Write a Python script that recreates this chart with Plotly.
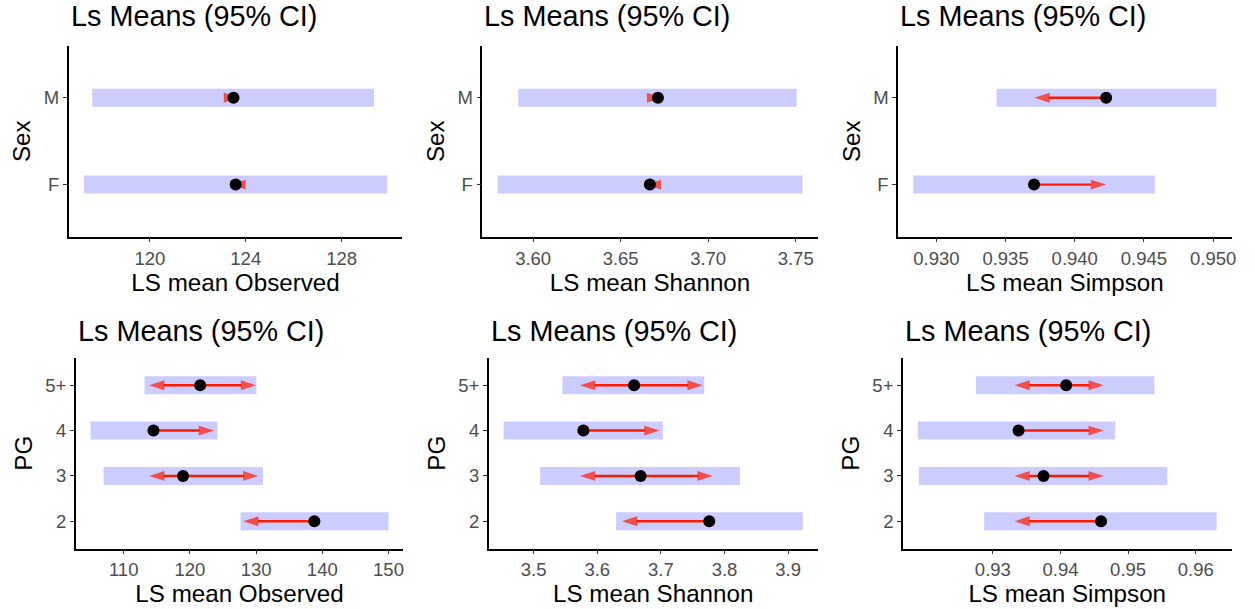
import plotly.graph_objects as go

W, H = 1255, 609

# ---------------- data ----------------
sex_cats = ["F", "M"]
pg_cats = ["2", "3", "4", "5+"]

# Observed ~ Sex
obs_sex_mean = [123.58, 123.49]
obs_sex_lower = [117.25, 117.60]
obs_sex_upper = [129.90, 129.35]
obs_sex_left = [123.36, None]
obs_sex_right = [None, 123.72]

# Shannon ~ Sex
sha_sex_mean = [3.6667, 3.6713]
sha_sex_lower = [3.5797, 3.5915]
sha_sex_upper = [3.7539, 3.7506]
sha_sex_left = [3.6644, None]
sha_sex_right = [None, 3.6737]

# Simpson ~ Sex
sim_sex_mean = [0.93706, 0.94227]
sim_sex_lower = [0.92833, 0.93435]
sim_sex_upper = [0.94579, 0.95024]
sim_sex_left = [None, 0.93709]
sim_sex_right = [0.94227, None]

# Observed ~ PG
obs_pg_mean = [138.8, 118.96, 114.5, 121.55]
obs_pg_lower = [127.65, 106.96, 105.0, 113.15]
obs_pg_upper = [150.0, 131.05, 124.16, 130.05]
obs_pg_left = [128.05, 113.85, None, 113.85]
obs_pg_right = [None, 130.35, 123.65, 130.0]

# Shannon ~ PG
sha_pg_mean = [3.776, 3.6681, 3.5782, 3.6579]
sha_pg_lower = [3.6297, 3.5103, 3.453, 3.5454]
sha_pg_upper = [3.923, 3.8244, 3.7031, 3.7682]
sha_pg_left = [3.639, 3.573, None, 3.573]
sha_pg_right = [None, 3.7814, 3.6978, 3.7657]

# Simpson ~ PG
sim_pg_mean = [0.946, 0.9375, 0.9338, 0.94084]
sim_pg_lower = [0.92872, 0.91906, 0.91891, 0.9275]
sim_pg_upper = [0.96309, 0.95579, 0.94809, 0.9539]
sim_pg_left = [0.9332, 0.9332, None, 0.9332]
sim_pg_right = [None, 0.9464, 0.9464, 0.9464]

# tick labels
obs_sex_ticks = [120, 124, 128]
sha_sex_ticks = [3.60, 3.65, 3.70, 3.75]
sim_sex_ticks = [0.930, 0.935, 0.940, 0.945, 0.950]
obs_pg_ticks = [110, 120, 130, 140, 150]
sha_pg_ticks = [3.5, 3.6, 3.7, 3.8, 3.9]
sim_pg_ticks = [0.93, 0.94, 0.95, 0.96]

title_text = "Ls Means (95% CI)"

# ---------------- styling ----------------
FONT = "Liberation Sans, Arial, Helvetica, sans-serif"
BAR_COLOR = "#CCCCFF"
ARROW_COLOR = "#FF1A00"
TICK_GREY = "#4D4D4D"

panels = [
    dict(cats=sex_cats, mean=obs_sex_mean, lo=obs_sex_lower, hi=obs_sex_upper,
         left=obs_sex_left, right=obs_sex_right, ticks=obs_sex_ticks, fmt="d",
         xtitle="LS mean Observed", ytitle="Sex", xdom=(69, 404), ydom=(45.7, 236.7)),
    dict(cats=sex_cats, mean=sha_sex_mean, lo=sha_sex_lower, hi=sha_sex_upper,
         left=sha_sex_left, right=sha_sex_right, ticks=sha_sex_ticks, fmt=".2f",
         xtitle="LS mean Shannon", ytitle="Sex", xdom=(484.3, 821), ydom=(45.7, 236.7)),
    dict(cats=sex_cats, mean=sim_sex_mean, lo=sim_sex_lower, hi=sim_sex_upper,
         left=sim_sex_left, right=sim_sex_right, ticks=sim_sex_ticks, fmt=".3f",
         xtitle="LS mean Simpson", ytitle="Sex", xdom=(901.7, 1236.5), ydom=(45.7, 236.7)),
    dict(cats=pg_cats, mean=obs_pg_mean, lo=obs_pg_lower, hi=obs_pg_upper,
         left=obs_pg_left, right=obs_pg_right, ticks=obs_pg_ticks, fmt="d",
         xtitle="LS mean Observed", ytitle="PG", xdom=(76, 405), ydom=(358, 548.5)),
    dict(cats=pg_cats, mean=sha_pg_mean, lo=sha_pg_lower, hi=sha_pg_upper,
         left=sha_pg_left, right=sha_pg_right, ticks=sha_pg_ticks, fmt=".1f",
         xtitle="LS mean Shannon", ytitle="PG", xdom=(490.7, 821), ydom=(358, 548.5)),
    dict(cats=pg_cats, mean=sim_pg_mean, lo=sim_pg_lower, hi=sim_pg_upper,
         left=sim_pg_left, right=sim_pg_right, ticks=sim_pg_ticks, fmt=".2f",
         xtitle="LS mean Simpson", ytitle="PG", xdom=(906.5, 1236.5), ydom=(358, 548.5)),
]

fig = go.Figure()
BAR_PX = 18

for k, p in enumerate(panels, start=1):
    xa = "x" if k == 1 else f"x{k}"
    ya = "y" if k == 1 else f"y{k}"
    n = len(p["cats"])
    plot_h = p["ydom"][1] - p["ydom"][0]
    bar_w = BAR_PX / (plot_h / (n + 0.2))

    # CI bars
    fig.add_trace(go.Bar(
        y=p["cats"], x=[h - l for l, h in zip(p["lo"], p["hi"])], base=p["lo"],
        orientation="h", width=bar_w, marker=dict(color=BAR_COLOR, line=dict(width=0)),
        xaxis=xa, yaxis=ya, hoverinfo="skip"))

    # comparison arrows
    for side in ("left", "right"):
        for c, m, t in zip(p["cats"], p["mean"], p[side]):
            if t is None:
                continue
            fig.add_trace(go.Scatter(
                x=[m, t], y=[c, c], mode="lines+markers",
                line=dict(color=ARROW_COLOR, width=2.4),
                marker=dict(symbol=["circle", "arrow"], size=[0, 16],
                            color=ARROW_COLOR, angleref="previous",
                            line=dict(width=0)),
                xaxis=xa, yaxis=ya, hoverinfo="skip"))

    # means
    fig.add_trace(go.Scatter(
        x=p["mean"], y=p["cats"], mode="markers",
        marker=dict(color="black", size=12, line=dict(width=0)),
        xaxis=xa, yaxis=ya))

    lo_all, hi_all = min(p["lo"]), max(p["hi"])
    pad = 0.05 * (hi_all - lo_all)
    xd = [p["xdom"][0] / W, p["xdom"][1] / W]
    yd = [1 - p["ydom"][1] / H, 1 - p["ydom"][0] / H]

    axis_common = dict(showline=True, linecolor="black", linewidth=1.5,
                       ticks="outside", ticklen=4, tickwidth=1, tickcolor="#333333",
                       showgrid=False, zeroline=False,
                       tickfont=dict(family=FONT, size=18.5, color=TICK_GREY))
    fig.update_layout(**{
        ("xaxis" if k == 1 else f"xaxis{k}"): dict(
            domain=xd, anchor=ya, range=[lo_all - pad, hi_all + pad],
            tickvals=p["ticks"], tickformat=p["fmt"],
            title=dict(text=p["xtitle"], font=dict(family=FONT, size=24.2, color="black"),
                       standoff=3),
            **axis_common),
        ("yaxis" if k == 1 else f"yaxis{k}"): dict(
            domain=yd, anchor=xa, type="category",
            categoryorder="array", categoryarray=p["cats"],
            range=[-0.6, n - 0.4],
            title=dict(text=p["ytitle"], font=dict(family=FONT, size=24.2, color="black"),
                       standoff=6),
            **axis_common),
    })

    # panel title
    title_y = 16.3 if p["ydom"][0] < 100 else 331.5
    fig.add_annotation(
        text=title_text, xref="paper", yref="paper",
        x=p["xdom"][0] / W, y=1 - title_y / H, xanchor="left", yanchor="middle",
        showarrow=False, font=dict(family=FONT, size=28.8, color="black"))

fig.update_layout(
    width=W, height=H, margin=dict(l=0, r=0, t=0, b=0),
    paper_bgcolor="white", plot_bgcolor="white",
    showlegend=False, barmode="overlay",
    font=dict(family=FONT),
)

fig.write_html("out.html")
